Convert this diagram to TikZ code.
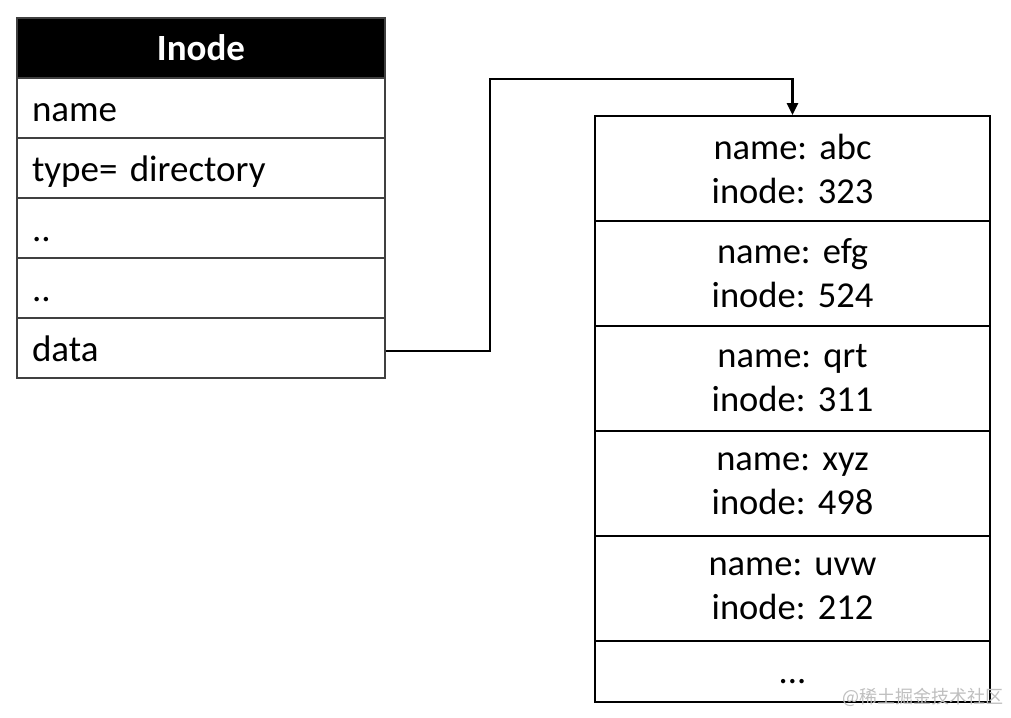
\documentclass[tikz,border=0pt]{standalone}
\usepackage{fontspec}
\setmainfont{Carlito}
\newfontfamily\cjkfont{Noto Sans CJK SC}
\usetikzlibrary{arrows.meta}
\frenchspacing
\begin{document}
\begin{tikzpicture}[x=1pt,y=-1pt,
  lrow/.style={draw=black!75,line width=1.3pt,minimum height=60pt,text width=338pt,inner xsep=15pt,inner ysep=0pt,text height=30pt,text depth=4pt,align=left,font=\fontsize{37}{44}\selectfont\frenchspacing,anchor=center},
  lhead/.style={lrow,fill=black,text=white,align=center,text height=28pt,font=\fontsize{37}{44}\selectfont\bfseries},
  rrow/.style={draw=black,line width=2pt,minimum height=105pt,text width=380pt,inner xsep=7.5pt,inner ysep=0pt,align=center,font=\fontsize{36.5}{44}\selectfont\frenchspacing,anchor=center},
  conn/.style={line width=2.6pt,-{Triangle[length=12pt,width=11pt]}}
]
\useasboundingbox (0,0) rectangle (1011,717);
\fill[white] (0,0) rectangle (1011,717);
% left table
\node[lhead] (hd) at (201,48) {Inode};
\node[lrow] (r1) at (201,108) {name};
\node[lrow] (r2) at (201,168) {type= directory};
\node[lrow] (r3) at (201,228) {..};
\node[lrow] (r4) at (201,288) {..};
\node[lrow] (r5) at (201,348) {data};
% right table
\node[rrow] (e1) at (792.5,168.5) {name: abc\\inode: 323};
\node[rrow] (e2) at (792.5,273.5) {name: efg\\inode: 524};
\node[rrow] (e3) at (792.5,378.5) {name: qrt\\inode: 311};
\node[rrow] (e4) at (792.5,483.5) {name: xyz\\inode: 498};
\node[rrow] (e5) at (792.5,588.5) {name: uvw\\inode: 212};
\node[rrow,minimum height=61pt,text height=27pt,text depth=4pt] (e6) at (792.5,671.5) {...};
% connector
\coordinate (c1) at (490,351);
\coordinate (c2) at (490,79);
\coordinate (c3) at (792.5,79);
\draw[conn] (r5.east |- c1) -- (c1) -- (c2) -- (c3) -- (e1.north);
% watermark
\node[anchor=east,text=black!25,font=\cjkfont\fontsize{18}{21}\selectfont,inner sep=0pt] (wm) at (1004,697) {@稀土掘金技术社区};
\end{tikzpicture}
\end{document}
